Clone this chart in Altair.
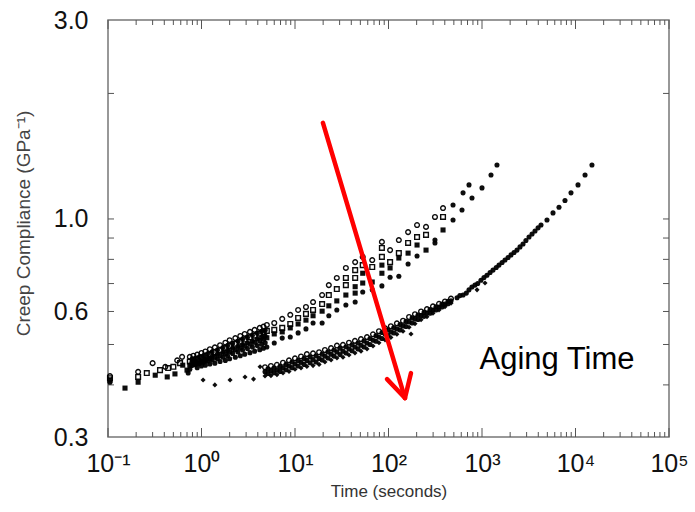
import altair as alt
import pandas as pd

W, H = 561, 417

# ---------------- data (time s, compliance GPa^-1) -------------
# upper band (short aging times), four symbol rows
u1 = [(0.105,0.420),(0.21,0.430),(0.30,0.451),(0.41,0.442),(0.55,0.458),(0.62,0.467),(0.75,0.467),
      (0.82,0.470),(0.90,0.473),(1.0,0.477),(1.1,0.481),(1.23,0.487),(1.39,0.492),(1.58,0.498),
      (1.8,0.505),(2.0,0.512),(2.3,0.518),(2.6,0.524),(2.9,0.530),(3.3,0.536),(3.7,0.542),(4.2,0.548),
      (4.6,0.552),(5.0,0.557),(6.0,0.563),(7.3,0.576),(8.9,0.589),(10.8,0.605),(13.1,0.615),(15.6,0.632),
      (19.5,0.657),(23,0.694),(28,0.722),(35,0.763),(44,0.788),(53,0.811),(67,0.797),(85,0.881),
      (104,0.842),(129,0.890),(162,0.930),(202,0.967),(252,0.957),(314,1.011),(383,1.062)]
u2 = [(0.105,0.415),(0.21,0.418),(0.26,0.427),(0.36,0.434),(0.44,0.439),(0.50,0.442),(0.59,0.451),
      (0.75,0.455),(0.82,0.460),(0.90,0.462),(1.0,0.466),(1.1,0.470),(1.23,0.473),(1.39,0.479),
      (1.58,0.484),(1.8,0.490),(2.0,0.496),(2.3,0.502),(2.6,0.508),(2.9,0.514),(3.3,0.520),(3.7,0.525),
      (4.2,0.531),(4.6,0.535),(5.0,0.539),(6.0,0.542),(7.3,0.548),(8.9,0.560),(10.8,0.579),(13.1,0.592),
      (15.6,0.605),(19.5,0.625),(23,0.657),(28,0.679),(35,0.722),(35,0.694),(44,0.754),(44,0.722),
      (53,0.775),(67,0.767),(85,0.852),(85,0.811),(104,0.788),(129,0.828),(162,0.876),(202,0.905),
      (252,0.916),(383,1.011)]
u3 = [(0.105,0.411),(0.152,0.393),(0.21,0.406),(0.32,0.422),(0.43,0.418),(0.52,0.425),(0.63,0.446),
      (0.70,0.434),(0.75,0.446),(0.82,0.449),(0.90,0.451),(1.0,0.455),(1.1,0.458),(1.23,0.462),
      (1.39,0.466),(1.58,0.470),(1.8,0.475),(2.0,0.480),(2.3,0.486),(2.6,0.491),(2.9,0.496),(3.3,0.501),
      (3.7,0.506),(4.2,0.511),(4.6,0.515),(5.0,0.519),(6.0,0.530),(7.3,0.536),(8.9,0.548),(10.8,0.560),
      (13.1,0.572),(15.6,0.586),(19.5,0.601),(23,0.619),(28,0.636),(35,0.657),(44,0.688),(44,0.664),
      (53,0.741),(53,0.702),(67,0.706),(85,0.775),(85,0.741),(104,0.763),(129,0.806),(162,0.828),
      (202,0.866),(252,0.842),(383,0.941)]
u4 = [(0.105,0.406),(0.72,0.427),(0.75,0.436),(0.90,0.440),(1.0,0.444),(1.1,0.446),(1.23,0.449),
      (1.39,0.451),(1.58,0.455),(1.8,0.458),(2.0,0.462),(2.3,0.466),(2.6,0.470),(2.9,0.474),(3.3,0.478),
      (3.7,0.482),(4.2,0.486),(4.6,0.490),(5.0,0.493),(6.0,0.504),(7.3,0.518),(8.9,0.521),(10.8,0.533),
      (13.1,0.545),(15.6,0.563),(19.5,0.563),(23,0.586),(28,0.605),(35,0.622),(44,0.632),(53,0.668),
      (67,0.676),(85,0.691),(104,0.725),(129,0.729),(162,0.780),(202,0.815),(314,0.890),(314,0.876),
      (490,1.080),(490,0.994),(611,1.051),(627,1.155),(726,1.207),(782,1.123),(1000,1.187),
      (1248,1.275),(1446,1.347)]
# dense smear of the upper band between 0.8 s and 5 s
u_fill_t = [0.79,0.86,0.95,1.05,1.16,1.30,1.48,1.69,1.90,2.15,2.45,2.75,3.10,3.50,3.95,4.40,4.80]
u_fill_a = [0.461,0.463,0.467,0.470,0.475,0.480,0.485,0.491,0.497,0.503,0.509,0.515,0.520,0.526,0.532,0.537,0.541]
u_fill_b = [0.453,0.455,0.458,0.462,0.465,0.469,0.474,0.479,0.484,0.490,0.495,0.500,0.505,0.510,0.516,0.520,0.524]
u_fill_c = [0.445,0.447,0.450,0.453,0.456,0.459,0.462,0.466,0.470,0.476,0.480,0.485,0.489,0.493,0.497,0.501,0.505]

# lower band (long aging times)
low_t = [4.78,5.53,6.41,7.44,8.63,10.0,11.6,13.4,15.6,18.1,20.9,24.3,28.1,32.6,37.8,43.8,
         50.8,58.9,68.3,79.1,91.8,106,123,143,166,192,223,258,299,347,402,466]
low_hi = [0.441,0.444,0.447,0.452,0.458,0.463,0.468,0.474,0.476,0.479,0.485,0.490,0.497,0.499,0.505,0.510,
          0.515,0.521,0.529,0.538,0.547,0.553,0.562,0.570,0.582,0.591,0.600,0.608,0.617,0.626,0.634,0.644]
low_mid = [0.430,0.432,0.434,0.439,0.444,0.449,0.453,0.458,0.460,0.463,0.469,0.474,0.480,0.482,0.488,0.493,
           0.498,0.504,0.512,0.521,0.530,0.536,0.545,0.554,0.566,0.576,0.586,0.595,0.605,0.615,0.625,0.636]
low_lo = [0.420,0.421,0.423,0.427,0.431,0.436,0.439,0.443,0.445,0.448,0.454,0.459,0.464,0.466,0.472,0.477,
          0.482,0.488,0.496,0.505,0.513,0.520,0.529,0.538,0.550,0.561,0.573,0.583,0.594,0.605,0.616,0.628]
low_t_b = [5.14,5.95,6.91,8.01,9.29,10.8,12.5,14.5,16.8,19.5,22.5,26.1,30.3,35.1,40.7,47.2,
           54.7,63.4,73.5,85.2,98.6,114,133,154,179,207,240,278,322,373,433]
low_b_a = [0.437,0.439,0.443,0.448,0.454,0.458,0.463,0.467,0.470,0.474,0.480,0.485,0.490,0.494,0.499,0.504,
           0.510,0.517,0.525,0.534,0.542,0.549,0.558,0.568,0.579,0.588,0.597,0.606,0.616,0.625,0.635]
low_b_b = [0.426,0.428,0.431,0.435,0.440,0.444,0.448,0.452,0.454,0.459,0.464,0.469,0.473,0.477,0.483,0.488,
           0.493,0.500,0.509,0.517,0.525,0.533,0.542,0.552,0.563,0.574,0.584,0.594,0.605,0.615,0.626]
low_sparse = [(1.04,0.411),(1.39,0.400),(2.02,0.411),(2.92,0.418),(3.6,0.413),(4.23,0.442),
              (174,0.530),(885,0.676),(1077,0.702)]
low_tail = [(541,0.647),(627,0.657),(726,0.676),(841,0.694),(975,0.713),(1130,0.733),(1312,0.754),
            (1520,0.775),(1762,0.797),(2042,0.820),(2368,0.842),(2746,0.871),(3184,0.905),(3690,0.936),
            (4277,0.967),(4955,0.994),(5745,1.034),(6660,1.067),(7720,1.107),(8950,1.155),(10640,1.207),
            (12650,1.275),(15000,1.347)]
low_tail2 = [(580,0.655),(680,0.664),(780,0.687),(900,0.700),(1050,0.724),(1220,0.744),(1420,0.765),
             (1640,0.786),(1900,0.808),(2200,0.831),(2550,0.857),(2950,0.888),(3430,0.920),(3980,0.952)]

# axis ticks
x_major = [0.1, 1, 10, 100, 1000, 10000, 100000]
x_minor = [0.2,0.3,0.4,0.5,0.6,0.7,0.8,0.9,
           2,3,4,5,6,7,8,9,
           20,30,40,50,60,70,80,90,
           200,300,400,500,600,700,800,900,
           2000,3000,4000,5000,6000,7000,8000,9000,
           20000,30000,40000,50000,60000,70000,80000,90000]
y_ticks = [0.4, 0.5, 0.6, 0.7, 0.8, 0.9, 1.0, 2.0]
y_labels = [0.3, 0.6, 1.0, 3.0]

# annotation arrow (tail, tip, barbs) and label
arrow_start = (19.9, 1.70)
arrow_tip = (150, 0.372)
barb_left = (96.4, 0.413)
barb_right = (174, 0.427)
note_pos = (6340, 0.437)
note_text = "Aging Time"

# ---------------- build tables ----------------
rows = []
def add(name, pairs):
    for t, j in pairs:
        rows.append({"t": t, "J": j, "series": name})

add("u1", u1); add("u2", u2); add("u3", u3); add("u4", u4)
add("uf", list(zip(u_fill_t, u_fill_a)) + list(zip(u_fill_t, u_fill_b)) + list(zip(u_fill_t, u_fill_c)))
add("lhi", list(zip(low_t, low_hi)))
add("lmid", list(zip(low_t, low_mid)) + list(zip(low_t_b, low_b_a)) + list(zip(low_t_b, low_b_b)))
add("llo", list(zip(low_t, low_lo)))
add("lsp", low_sparse); add("lt1", low_tail); add("lt2", low_tail2)
df = pd.DataFrame(rows)

xscale = alt.Scale(type="log", domain=[0.1, 100000], nice=False)
yscale = alt.Scale(type="log", domain=[0.3, 3.0], nice=False)
FONT = "Liberation Sans"

label_expr = ("datum.value < 0.5 ? '10⁻¹' : datum.value < 5 ? '10⁰' : datum.value < 50 ? '10¹' : "
              "datum.value < 500 ? '10²' : datum.value < 5000 ? '10³' : datum.value < 50000 ? '10⁴' : '10⁵'")

x_axis = alt.Axis(values=x_major, labelExpr=label_expr, ticks=False, tickSize=0, domain=False, grid=False,
                  labelFont=FONT, labelFontSize=25, labelColor="#111", labelPadding=14,
                  labelFlush=False, labelOverlap=False,
                  title="Time (seconds)", titleFont=FONT, titleFontSize=17, titleFontWeight="normal",
                  titleColor="#333", titleX=W / 2, titleY=59, titleBaseline="alphabetic", titleAlign="center")
y_axis = alt.Axis(values=y_labels, format=".1f", ticks=False, tickSize=0, domain=False, grid=False,
                  labelFont=FONT, labelFontSize=25, labelColor="#111", labelPadding=20,
                  labelFlush=False, labelOverlap=False,
                  title="Creep Compliance (GPa⁻¹)", titleFont=FONT, titleFontSize=19, titleFontWeight="normal",
                  titleColor="#444", titleX=-85, titleY=203, titleAngle=270, titleBaseline="middle",
                  titleAlign="center")

X = lambda f: alt.X(f, scale=xscale, axis=x_axis)
Y = lambda f: alt.Y(f, scale=yscale, axis=y_axis)

styles = [("u1", "circle", False), ("u2", "square", False), ("u3", "square", True), ("u4", "circle", True),
          ("uf", "circle", True),
          ("lhi", "circle", False), ("lmid", "circle", True), ("llo", "diamond", True),
          ("lsp", "diamond", True), ("lt1", "circle", True), ("lt2", "circle", True)]

layers = []
TICK = "#555"

def tick_layer(vals, field, **enc):
    d = pd.DataFrame({field: vals})
    return alt.Chart(d).mark_rule(color=TICK, strokeWidth=1).encode(**enc)

layers.append(tick_layer(x_major, "t", x=X("t:Q"), y=alt.value(H), y2=alt.value(H - 9)))
layers.append(tick_layer(x_minor, "t", x=X("t:Q"), y=alt.value(H), y2=alt.value(H - 5)))
layers.append(tick_layer(x_major, "t", x=X("t:Q"), y=alt.value(0), y2=alt.value(9)))
layers.append(tick_layer(x_minor, "t", x=X("t:Q"), y=alt.value(0), y2=alt.value(5)))
layers.append(tick_layer(y_ticks, "J", y=Y("J:Q"), x=alt.value(0), x2=alt.value(6)))
layers.append(tick_layer(y_ticks, "J", y=Y("J:Q"), x=alt.value(W), x2=alt.value(W - 6)))

for name, shape, filled in styles:
    layers.append(
        alt.Chart(df).transform_filter(alt.datum.series == name)
        .mark_point(shape=shape, filled=filled, size=26 if filled else 22, color="#000",
                    strokeWidth=1.4, opacity=0.95)
        .encode(x=X("t:Q"), y=Y("J:Q"))
    )

arrow_df = pd.DataFrame({
    "t": [arrow_start[0], barb_left[0], barb_right[0]],
    "J": [arrow_start[1], barb_left[1], barb_right[1]],
    "t2": [arrow_tip[0]] * 3,
    "J2": [arrow_tip[1]] * 3,
})
layers.append(
    alt.Chart(arrow_df).mark_rule(color="#ff0000", strokeWidth=4.5, strokeCap="round")
    .encode(x=X("t:Q"), y=Y("J:Q"), x2="t2:Q", y2="J2:Q")
)

note_df = pd.DataFrame({"t": [note_pos[0]], "J": [note_pos[1]], "label": [note_text]})
layers.append(
    alt.Chart(note_df).mark_text(font=FONT, fontSize=31, color="#000", align="center", baseline="alphabetic")
    .encode(x=X("t:Q"), y=Y("J:Q"), text="label:N")
)

chart = (
    alt.layer(*layers)
    .properties(width=W, height=H, autosize=alt.AutoSizeParams(type="none"),
                padding={"left": 108, "top": 20, "right": 26, "bottom": 75}, background="white")
    .configure_view(stroke="#777", strokeWidth=1.5)
)

chart.save("out.html", embed_options={"renderer": "svg", "actions": False})
